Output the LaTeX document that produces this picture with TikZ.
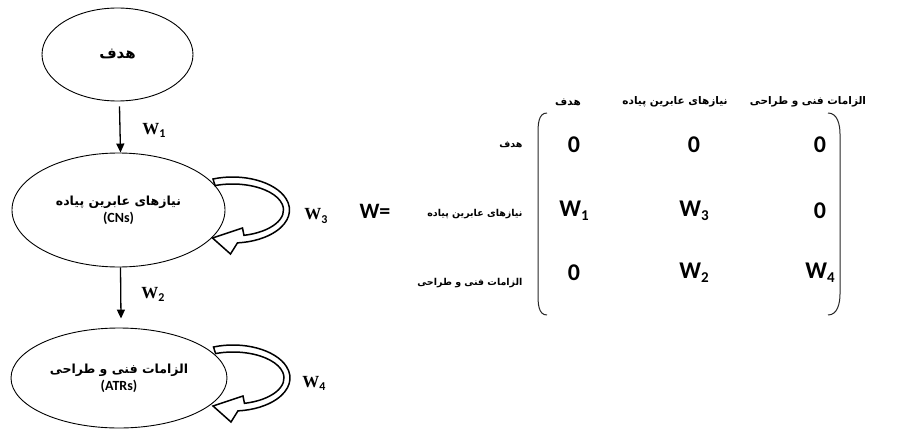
\documentclass[tikz,border=0pt]{standalone}
\usepackage{fontspec}
\setmainfont{Liberation Serif}
\newfontfamily\calibri{Carlito}
\newfontfamily\farsi[Script=Arabic]{DejaVu Sans}
\TeXXeTstate=1
\usetikzlibrary{shapes.geometric,arrows.meta}

\begin{document}
\begin{tikzpicture}[x=1pt,y=1pt,
    state/.style={draw, ellipse, line width=0.9pt, inner sep=0pt, align=center,
        font=\fontsize{12.5}{17}\selectfont},
    flow/.style={-{Triangle[length=9pt,width=8pt]}, line width=1.3pt},
    hollow/.style={draw, fill=white, line width=1.5pt},
    weight/.style={font=\fontsize{17}{19}\selectfont},
    entry/.style={font=\calibri\bfseries\fontsize{24}{26}\selectfont},
    rowlabel/.style={anchor=east, font=\fontsize{9.5}{12}\selectfont},
    collabel/.style={font=\fontsize{10.5}{12}\selectfont},
    paren/.style={line width=1pt, black!85}]

    % some handy macros
    \def\fa#1{{\farsi\bfseries\beginR #1\endR}}
    \def\lat#1{{\calibri\bfseries\fontsize{14}{16}\selectfont #1}}
    \def\wlab#1{\textbf{W}\raisebox{-0.4ex}{\calibri\bfseries\fontsize{12}{12}\selectfont #1}}
    \def\wsub#1{W\raisebox{-0.35ex}{\fontsize{15}{15}\selectfont #1}}

    % key values of the matrix
    \def\colA{574}
    \def\colB{694}
    \def\colC{820}
    \def\rowA{287}
    \def\rowB{221}
    \def\rowC{159}
    \def\rowlabx{526}

    \useasboundingbox (0,0) rectangle (901,432);

    % states
    \node[state, minimum width=151pt, minimum height=93pt] (goal) at (117.5,377.5)
        {\fontsize{15}{17}\selectfont\fa{هدف}};
    \node[state, minimum width=213pt, minimum height=114pt] (cns) at (118.5,222)
        {\fa{نیازهای عابرین پیاده}\\\lat{(CNs)}};
    \node[state, minimum width=216pt, minimum height=100pt] (atrs) at (119,54)
        {\fa{الزامات فنی و طراحی}\\\lat{(ATRs)}};

    % influence arrows
    \draw[flow] ([xshift=2pt,yshift=-5pt]goal.south) -- ([xshift=2pt]cns.north);
    \draw[flow] ([xshift=2pt]cns.south) -- ([xshift=2pt,yshift=9pt]atrs.north);

    % self loops
    \foreach \st in {cns,atrs}{
        \begin{scope}[shift={([xshift=114pt]\st.center)}]
        \draw[hollow] (110:57 and 33)
            arc[start angle=110, end angle=-85, x radius=57, y radius=33]
            -- (-2,-44) -- (-20,-28) -- (10,-18)
            -- (-77:51 and 26)
            arc[start angle=-77, end angle=110, x radius=51, y radius=26]
            -- cycle;
        \end{scope}
    }

    % weights
    \node[weight] (w1) at (154,302) {\wlab{1}};
    \node[weight] (w2) at (153,138) {\wlab{2}};
    \node[weight] (w3) at (316,216) {\wlab{3}};
    \node[weight] (w4) at (314,49) {\wlab{4}};

    % the matrix W
    \node[font=\calibri\bfseries\fontsize{22}{24}\selectfont] (weq) at (375,221) {W=};

    \node[collabel] (h1) at (\colA-6,330) {\fa{هدف}};
    \node[collabel] (h2) at (675,330) {\fa{نیازهای عابرین پیاده}};
    \node[collabel] (h3) at (808,330) {\fa{الزامات فنی و طراحی}};

    \node[rowlabel] (r1) at (\rowlabx,287) {\fa{هدف}};
    \node[rowlabel] (r2) at (\rowlabx,218) {\fa{نیازهای عابرین پیاده}};
    \node[rowlabel] (r3) at (\rowlabx,149) {\fa{الزامات فنی و طراحی}};

    \node[entry] (m11) at (\colA,\rowA) {0};
    \node[entry] (m12) at (\colB,\rowA) {0};
    \node[entry] (m13) at (\colC,\rowA) {0};
    \node[entry] (m21) at (\colA,\rowB) {\wsub{1}};
    \node[entry] (m22) at (\colB,\rowB) {\wsub{3}};
    \node[entry] (m23) at (\colC,\rowB) {0};
    \node[entry] (m31) at (\colA,\rowC) {0};
    \node[entry] (m32) at (\colB,\rowC) {\wsub{2}};
    \node[entry] (m33) at (\colC,\rowC) {\wsub{4}};

    % brackets
    \draw[paren] (547,319) to[out=180,in=90] (538,298) -- (538,138)
        to[out=-90,in=180] (547,117);
    \draw[paren] (828,319) to[out=0,in=90] (840,298) -- (840,138)
        to[out=-90,in=0] (828,117);

\end{tikzpicture}
\end{document}
